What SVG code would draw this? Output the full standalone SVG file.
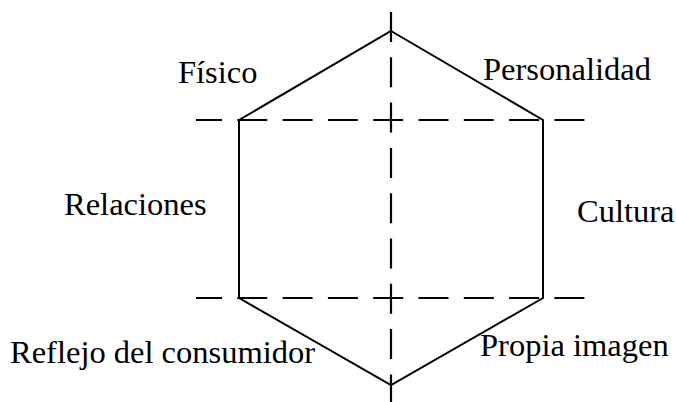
<svg xmlns="http://www.w3.org/2000/svg" width="676" height="402" viewBox="0 0 676 402">
<style>
.t{font-family:"Liberation Serif","Times New Roman",serif;font-size:32.5px;fill:#000}
.s{fill:none;stroke:#000;stroke-width:2;stroke-linejoin:miter}
.d{fill:none;stroke:#000;stroke-width:2.2;stroke-dasharray:30 15.3}
</style>
<rect width="676" height="402" fill="#fff"/>
<g id="axes">
<line class="d" x1="196" y1="120" x2="585" y2="120" stroke-dashoffset="4"/>
<line class="d" x1="196" y1="298" x2="585" y2="298" stroke-dashoffset="4"/>
<line class="d" x1="391" y1="12" x2="391" y2="402"/>
</g>
<g id="hexagon">
<polygon class="s" points="391,31 543,120 543,298 391,385 239,298 239,120"/>
</g>
<g id="label-fisico"><text class="t" x="178" y="83">Físico</text></g>
<g id="label-personalidad"><text class="t" x="483" y="80">Personalidad</text></g>
<g id="label-relaciones"><text class="t" x="64" y="215">Relaciones</text></g>
<g id="label-cultura"><text class="t" x="577" y="222">Cultura</text></g>
<g id="label-reflejo"><text class="t" x="10" y="363">Reflejo del consumidor</text></g>
<g id="label-propia"><text class="t" x="480" y="356">Propia imagen</text></g>
</svg>
